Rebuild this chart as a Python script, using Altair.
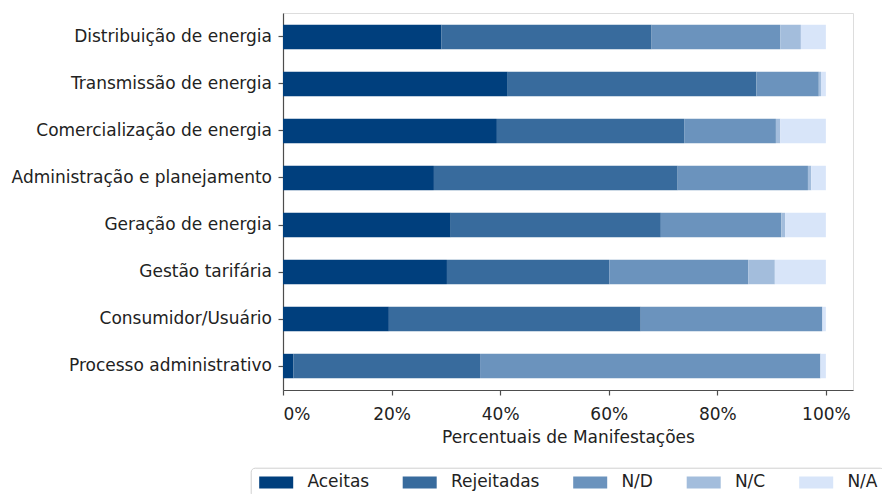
import altair as alt
import pandas as pd

categorias = [
    "Distribuição de energia",
    "Transmissão de energia",
    "Comercialização de energia",
    "Administração e planejamento",
    "Geração de energia",
    "Gestão tarifária",
    "Consumidor/Usuário",
    "Processo administrativo",
]
series = ["Aceitas", "Rejeitadas", "N/D", "N/C", "N/A"]
aceitas = [29.2, 41.4, 39.4, 27.8, 30.9, 30.2, 19.5, 1.9]
rejeitadas = [38.7, 45.8, 34.5, 44.9, 38.7, 29.9, 46.4, 34.4]
nd = [23.7, 11.5, 16.9, 24.0, 22.2, 25.6, 33.4, 62.7]
nc = [3.8, 0.4, 0.8, 0.6, 0.7, 4.9, 0.1, 0.0]
na = [4.6, 0.9, 8.4, 2.7, 7.5, 9.4, 0.6, 1.0]
cores = ["#003f7d", "#386b9d", "#6b93bd", "#a3bddc", "#d8e5f9"]

valores = [aceitas, rejeitadas, nd, nc, na]
rows = []
for si, (s, vals) in enumerate(zip(series, valores)):
    for c, v in zip(categorias, vals):
        rows.append({"categoria": c, "serie": s, "valor": v, "ordem": si})
df = pd.DataFrame(rows)

FONT = "DejaVu Sans"
TXT = "#222222"
AX = "#4d4d4d"

chart = alt.Chart(df).mark_bar().encode(
    y=alt.Y(
        "categoria:N",
        sort=categorias,
        title=None,
        scale=alt.Scale(paddingInner=0.48, paddingOuter=0.25),
        axis=alt.Axis(
            labelFont=FONT, labelFontSize=17, labelColor=TXT,
            domainColor=AX, domainWidth=1.2, tickColor=AX, tickWidth=1.2,
            tickSize=5, labelPadding=6.5, labelLimit=400,
        ),
    ),
    x=alt.X(
        "valor:Q",
        stack="zero",
        title="Percentuais de Manifestações",
        scale=alt.Scale(domain=[0, 105], nice=False),
        axis=alt.Axis(
            values=[0, 20, 40, 60, 80, 100],
            labelExpr="datum.value + '%'",
            grid=False,
            labelFont=FONT, labelFontSize=17, labelColor=TXT,
            titleFont=FONT, titleFontSize=17, titleColor=TXT, titleFontWeight="normal",
            domainColor=AX, domainWidth=1.2, tickColor=AX, tickWidth=1.2,
            tickSize=5, labelPadding=11, titlePadding=7,
        ),
    ),
    color=alt.Color(
        "serie:N",
        scale=alt.Scale(domain=series, range=cores),
        legend=alt.Legend(
            title=None,
            orient="none",
            legendX=-32.3,
            legendY=454.7,
            direction="horizontal",
            columns=5,
            symbolType="M-1,-1H4.667V1H-1Z",
            symbolSize=144,
            symbolStrokeWidth=0,
            labelFont=FONT, labelFontSize=17, labelColor=TXT,
            labelOffset=33.7,
            columnPadding=30.5,
            padding=6,
            strokeColor="#d0d0d0",
            cornerRadius=4,
            fillColor="white",
        ),
    ),
    order=alt.Order("ordem:Q", sort="ascending"),
).properties(
    width=570,
    height=377,
    autosize=alt.AutoSizeParams(type="none"),
    padding={"left": 283, "top": 13, "right": 29, "bottom": 104},
).configure_view(stroke=None).configure(background="white")

chart.save("out.html", embed_options={"renderer": "svg", "actions": False})
